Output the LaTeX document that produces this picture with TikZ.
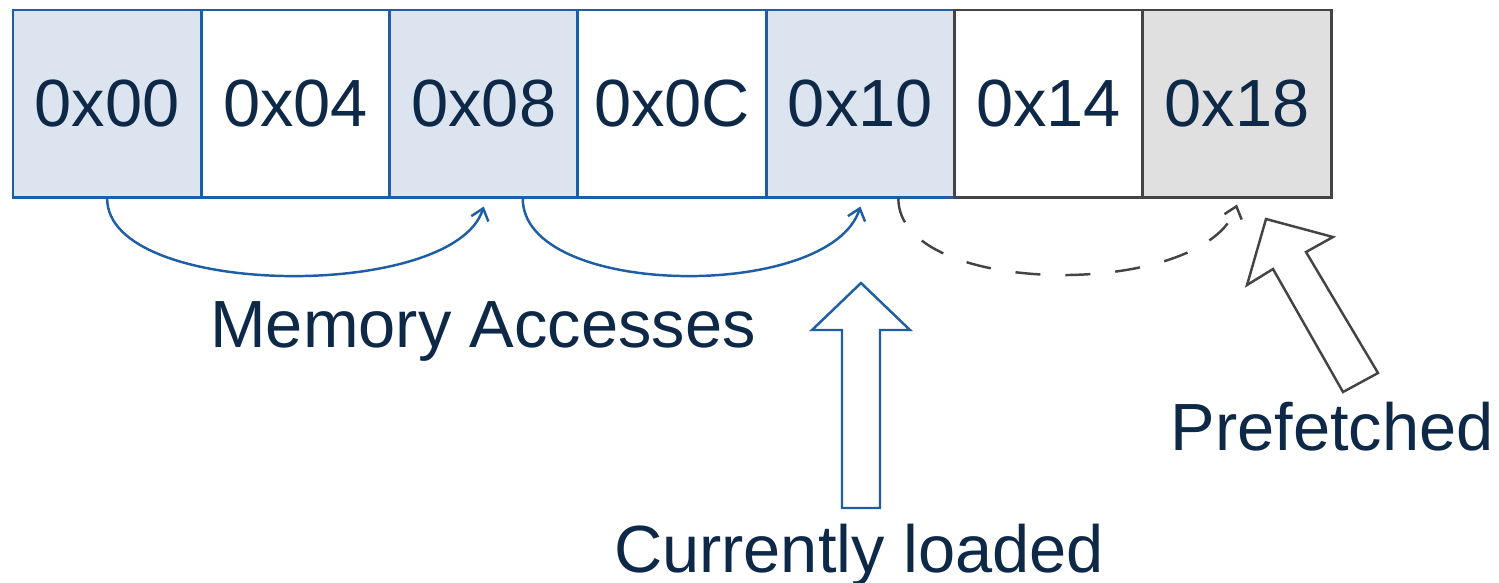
\documentclass[tikz,border=0pt]{standalone}
\usepackage{fontspec}
\setmainfont{Liberation Sans}
\usetikzlibrary{arrows.meta}
\definecolor{memblue}{RGB}{30,94,164}
\definecolor{memfill}{RGB}{220,228,239}
\definecolor{memgray}{RGB}{68,68,68}
\definecolor{pffill}{RGB}{224,224,224}
\definecolor{labtext}{RGB}{14,40,72}
\begin{document}
\begin{tikzpicture}[x=.2mm,y=.2mm,>={Straight Barb[length=2.2mm,width=3.6mm]},
    cell/.style={line width=1.7pt,minimum width=37.66mm,minimum height=37.4mm,inner sep=0pt,text=labtext,font=\fontsize{38}{44}\selectfont},
    lab/.style={anchor=base,text=labtext,font=\fontsize{38}{44}\selectfont},
    arc/.style={->,draw=memblue,line width=1.4pt},
    hollow/.style={line width=1.4pt,line join=miter,fill=white}]
    \useasboundingbox (0,0) rectangle (1499,-582);
    % one word per cell, later ones drawn over earlier borders
    \foreach \a/\f/\d [count=\i from 0] in {00/memfill/memblue,04/white/memblue,08/memfill/memblue,0C/white/memblue,10/memfill/memblue,14/white/memgray,18/pffill/memgray}
        \node[cell,fill=\f,draw=\d] (c\i) at ({13+188.3*(\i+.5)},-103.5) {0x\a};
    % accesses
    \draw[arc] (c0.south) .. controls +(0,-100) and +(-30,-95) .. ([yshift=-1.6mm]c2.south);
    \draw[arc] ([xshift=7.8mm]c2.south) .. controls +(0,-100) and +(-30,-95) .. ([yshift=-1.6mm]c4.south);
    \draw[arc,draw=memgray,dash pattern=on 5mm off 5mm] ([xshift=7.6mm]c4.south) .. controls +(0,-100) and +(-30,-95) .. ([yshift=-1.2mm]c6.south);
    \node[lab] (macc) at (483,-347) {Memory Accesses};
    % block arrows
    \draw[hollow,draw=memblue] (861,-283)--(910,-330)--(880,-330)--(880,-508)--(842,-508)--(842,-330)--(812,-330)--cycle;
    \node[lab] (cur) at (859,-572) {Currently loaded};
    \draw[hollow,draw=memgray] (1266,-219)--(1333,-237)--(1306,-252)--(1378,-373)--(1343,-392)--(1273,-269)--(1247,-285)--cycle;
    \node[lab] (pf) at (1332,-450) {Prefetched};
\end{tikzpicture}
\end{document}
